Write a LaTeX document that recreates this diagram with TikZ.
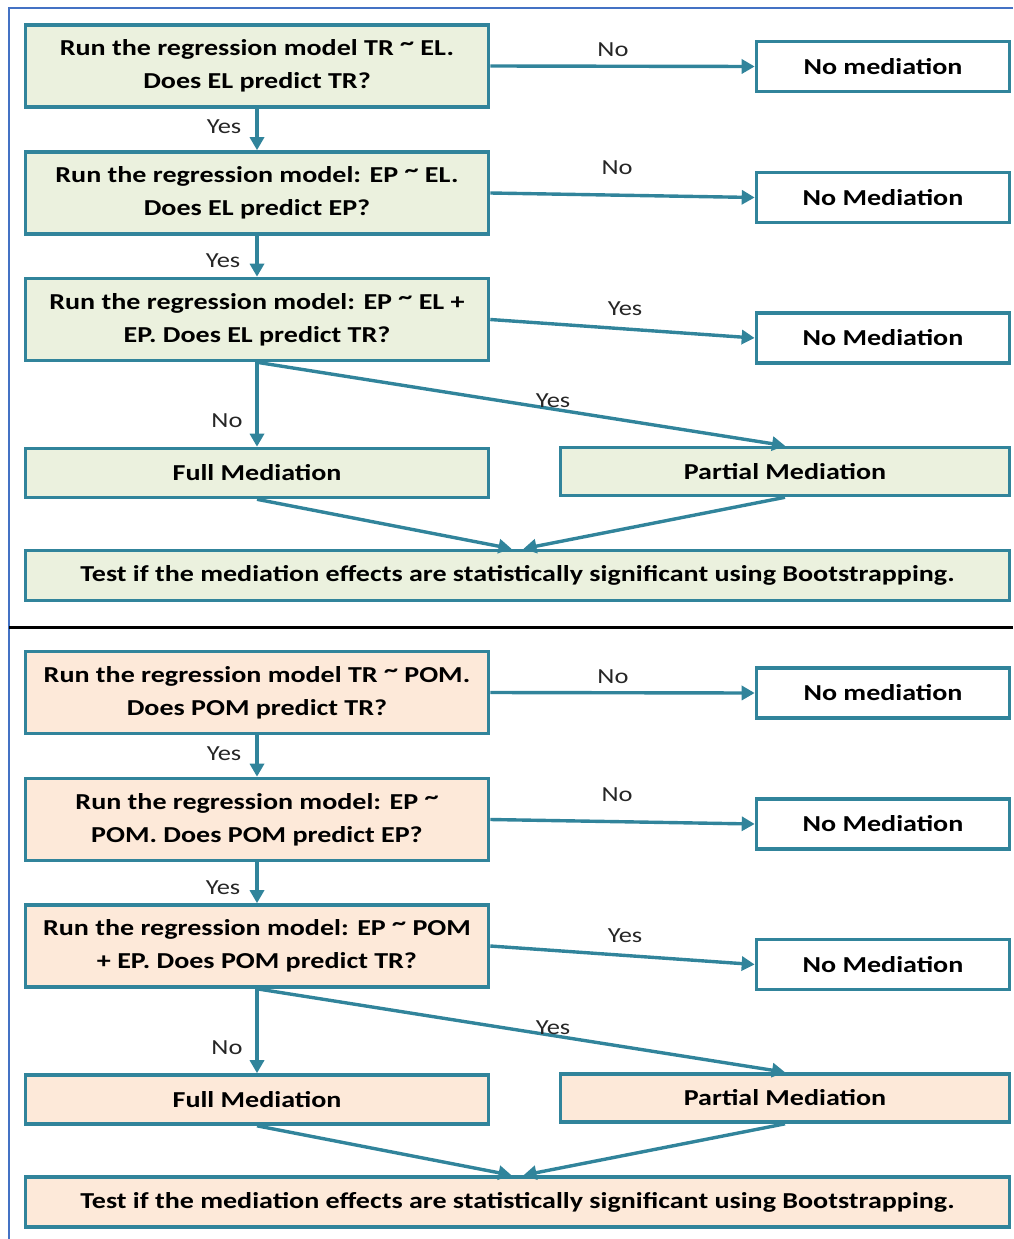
\documentclass[tikz,border=0pt]{standalone}
\usepackage{fontspec}
\setmainfont{Carlito}[FakeStretch=1.23]
\usetikzlibrary{arrows.meta}
\definecolor{teal}{HTML}{31849B}
\definecolor{greenfill}{HTML}{EBF1DE}
\definecolor{peachfill}{HTML}{FDE9D9}
\definecolor{frameblue}{HTML}{4472C4}
\definecolor{labelgray}{HTML}{262626}
% raised tilde as used in the model formulas
\newcommand{\tld}{\raisebox{5pt}{\symbol{"7E}}}
\tikzset{
  box/.style={draw=teal, line width=3.6pt, rectangle, align=center, inner sep=0pt,
    font=\fontsize{22.8}{33}\selectfont\bfseries},
  qbox/.style={box, minimum width=463pt, minimum height=82pt},
  endbox/.style={box, fill=white, minimum width=253pt, minimum height=50pt},
  flow/.style={draw=teal, line width=3.4pt, -{Triangle[length=13pt,width=14pt]}},
  lbl/.style={font=\fontsize{21.5}{25}\selectfont, text=labelgray, inner sep=0pt}
}
\begin{document}
\begin{tikzpicture}[x=1pt, y=-1pt]
\useasboundingbox (0,0) rectangle (1013,1239);

% outer frame and separator
\draw[frameblue, line width=2pt] (9,1239) -- (9,8) -- (1013,8);
\draw[black, line width=2.5pt] (9,627.5) -- (1013,627.5);

% ---------- upper panel ----------
\node[qbox, fill=greenfill] (a1) at (257,66) {Run the regression model TR \tld{} EL.\\Does EL predict TR?};
\node[endbox] (n1) at (883,66.5) {No mediation};
\node[qbox, fill=greenfill] (a2) at (257,193) {Run the regression model: EP \tld{} EL.\\Does EL predict EP?};
\node[endbox] (n2) at (883,197.5) {No Mediation};
\node[qbox, fill=greenfill] (a3) at (257,319.5) {Run the regression model: EP \tld{} EL +\\EP. Does EL predict TR?};
\node[endbox] (n3) at (883,338) {No Mediation};
\node[box, fill=greenfill, minimum width=463pt, minimum height=49pt] (f1) at (257,473) {Full Mediation};
\node[box, fill=greenfill, minimum width=449pt, minimum height=48pt] (p1) at (785,471.5) {Partial Mediation};
\node[box, fill=greenfill, minimum width=984pt, minimum height=50pt] (t1) at (517.5,575.5) {Test if the mediation effects are statistically significant using Bootstrapping.};

\draw[flow] (a1.east) -- (n1.west);
\draw[flow] (a1.south) -- (a2.north);
\draw[flow] (a2.east) -- (n2.west);
\draw[flow] (a2.south) -- (a3.north);
\draw[flow] (a3.east) -- (n3.west);
\draw[flow] (a3.south) -- (f1.north);
\draw[flow] (a3.south) -- (p1.north);
\draw[flow] (f1.south) -- ([xshift=-6pt]t1.north);
\draw[flow] (p1.south) -- ([xshift=6pt]t1.north);

\node[lbl] (l1) at (613,50) {No};
\node[lbl] (l2) at (224,127) {Yes};
\node[lbl] (l3) at (617,168) {No};
\node[lbl] (l4) at (223,261) {Yes};
\node[lbl] (l5) at (625,309) {Yes};
\node[lbl] (l6) at (227,421) {No};
\node[lbl] (l7) at (553,401) {Yes};

% ---------- lower panel ----------
\node[qbox, fill=peachfill] (b1) at (257,692.5) {Run the regression model TR \tld{} POM.\\Does POM predict TR?};
\node[endbox] (m1) at (883,693) {No mediation};
\node[qbox, fill=peachfill] (b2) at (257,819.5) {Run the regression model: EP \tld\\POM. Does POM predict EP?};
\node[endbox] (m2) at (883,824) {No Mediation};
\node[qbox, fill=peachfill] (b3) at (257,946) {Run the regression model: EP \tld{} POM\\+ EP. Does POM predict TR?};
\node[endbox] (m3) at (883,964.5) {No Mediation};
\node[box, fill=peachfill, minimum width=463pt, minimum height=49pt] (f2) at (257,1099.5) {Full Mediation};
\node[box, fill=peachfill, minimum width=449pt, minimum height=48pt] (p2) at (785,1098) {Partial Mediation};
\node[box, fill=peachfill, minimum width=984pt, minimum height=50pt] (t2) at (517.5,1202) {Test if the mediation effects are statistically significant using Bootstrapping.};

\draw[flow] (b1.east) -- (m1.west);
\draw[flow] (b1.south) -- (b2.north);
\draw[flow] (b2.east) -- (m2.west);
\draw[flow] (b2.south) -- (b3.north);
\draw[flow] (b3.east) -- (m3.west);
\draw[flow] (b3.south) -- (f2.north);
\draw[flow] (b3.south) -- (p2.north);
\draw[flow] (f2.south) -- ([xshift=-6pt]t2.north);
\draw[flow] (p2.south) -- ([xshift=6pt]t2.north);

\node[lbl] (k1) at (613,676.5) {No};
\node[lbl] (k2) at (224,753.5) {Yes};
\node[lbl] (k3) at (617,794.5) {No};
\node[lbl] (k4) at (223,887.5) {Yes};
\node[lbl] (k5) at (625,935.5) {Yes};
\node[lbl] (k6) at (227,1047.5) {No};
\node[lbl] (k7) at (553,1027.5) {Yes};
\end{tikzpicture}
\end{document}
